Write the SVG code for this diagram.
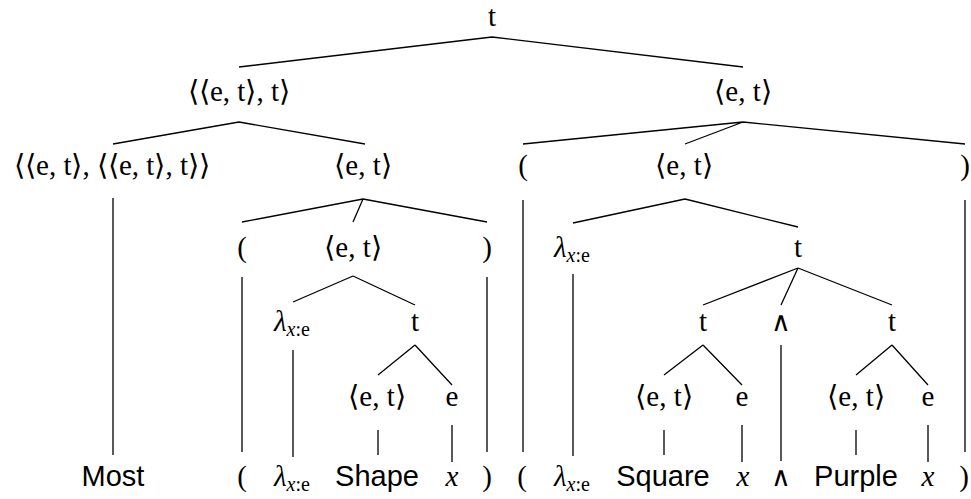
<svg xmlns="http://www.w3.org/2000/svg" width="971" height="499" viewBox="0 0 971 499">
<style>
text{fill:#000;text-anchor:middle;font-size:29px}
.s{font-family:'Liberation Serif','Times New Roman',Times,serif}
.ss{font-family:'Liberation Sans',Arial,Helvetica,sans-serif}
.and{font-family:'DejaVu Sans',sans-serif;font-size:27px;font-weight:200}
.i{font-style:italic}
.sub{font-size:20px}
.e path{stroke:#000;stroke-width:1.3;fill:none}
</style>
<rect width="971" height="499" fill="#fff"/>
<g class="e" id="connectors">
<path d="M492,37L239,67M492,37L743,67"/>
<path d="M239,122L113,144M239,122L365,144"/>
<path d="M743,122L523,144M743,122L685,144M743,122L965,144"/>
<path d="M113,198L113,455"/>
<path d="M363,199L242,222M363,199L353,222M363,199L487,222"/>
<path d="M523,200L523,452M965,200L965,452"/>
<path d="M685,199L573,223M685,199L798,227"/>
<path d="M242,277L242,452M487,277L487,452"/>
<path d="M353,276L293,302M353,276L415,305"/>
<path d="M573,274L573,456"/>
<path d="M798,268L703,305M798,268L781,305M798,268L892,305"/>
<path d="M293,350L293,457"/>
<path d="M415,345L378,375M415,345L452,385"/>
<path d="M703,345L664,375M703,345L742,385"/>
<path d="M781,345L781,461"/>
<path d="M892,345L856,375M892,345L928,385"/>
<path d="M378,430L378,455M452,425L452,462M664,430L664,455M742,425L742,462M856,430L856,455M928,425L928,462"/>
</g>
<g id="n-root"><text class="s" x="492" y="26">t</text></g>
<g id="n-l1a"><text class="s" x="239" y="101">⟨⟨e, t⟩, t⟩</text></g>
<g id="n-l1b"><text class="s" x="743" y="101">⟨e, t⟩</text></g>
<g id="n-most-type"><text class="s" x="112" y="175">⟨⟨e, t⟩, ⟨⟨e, t⟩, t⟩⟩</text></g>
<g id="n-l2-et"><text class="s" x="363" y="175">⟨e, t⟩</text></g>
<g id="n-l2-lp"><text class="s" x="523" y="175">(</text></g>
<g id="n-l2-et2"><text class="s" x="684" y="175">⟨e, t⟩</text></g>
<g id="n-l2-rp"><text class="s" x="965" y="175">)</text></g>
<g id="n-l3-lp"><text class="s" x="242" y="257">(</text></g>
<g id="n-l3-et"><text class="s" x="353" y="257">⟨e, t⟩</text></g>
<g id="n-l3-rp"><text class="s" x="487" y="257">)</text></g>
<g id="n-l3-lam"><text class="s" x="572" y="257"><tspan class="i">λ</tspan><tspan class="sub i" dy="5">x</tspan><tspan class="sub">:e</tspan></text></g>
<g id="n-l3-t"><text class="s" x="798" y="257">t</text></g>
<g id="n-l4-lam"><text class="s" x="292" y="331"><tspan class="i">λ</tspan><tspan class="sub i" dy="5">x</tspan><tspan class="sub">:e</tspan></text></g>
<g id="n-l4-t"><text class="s" x="415" y="331">t</text></g>
<g id="n-l4-t2"><text class="s" x="703" y="331">t</text></g>
<g id="n-l4-and"><text class="and" x="781" y="331">∧</text></g>
<g id="n-l4-t3"><text class="s" x="892" y="331">t</text></g>
<g id="n-l5-et1"><text class="s" x="377" y="406">⟨e, t⟩</text></g>
<g id="n-l5-e1"><text class="s" x="452" y="406">e</text></g>
<g id="n-l5-et2"><text class="s" x="664" y="406">⟨e, t⟩</text></g>
<g id="n-l5-e2"><text class="s" x="742" y="406">e</text></g>
<g id="n-l5-et3"><text class="s" x="856" y="406">⟨e, t⟩</text></g>
<g id="n-l5-e3"><text class="s" x="928" y="406">e</text></g>
<g id="leaf-most"><text class="ss" x="113" y="486">Most</text></g>
<g id="leaf-lp1"><text class="s" x="242" y="486">(</text></g>
<g id="leaf-lam1"><text class="s" x="292" y="486"><tspan class="i">λ</tspan><tspan class="sub i" dy="5">x</tspan><tspan class="sub">:e</tspan></text></g>
<g id="leaf-shape"><text class="ss" x="377" y="486">Shape</text></g>
<g id="leaf-x1"><text class="s i" x="452" y="486">x</text></g>
<g id="leaf-rp1"><text class="s" x="487" y="486">)</text></g>
<g id="leaf-lp2"><text class="s" x="522" y="486">(</text></g>
<g id="leaf-lam2"><text class="s" x="572" y="486"><tspan class="i">λ</tspan><tspan class="sub i" dy="5">x</tspan><tspan class="sub">:e</tspan></text></g>
<g id="leaf-square"><text class="ss" x="663" y="486">Square</text></g>
<g id="leaf-x2"><text class="s i" x="743" y="486">x</text></g>
<g id="leaf-and"><text class="and" x="781" y="486">∧</text></g>
<g id="leaf-purple"><text class="ss" x="856" y="486">Purple</text></g>
<g id="leaf-x3"><text class="s i" x="928" y="486">x</text></g>
<g id="leaf-rp2"><text class="s" x="964" y="486">)</text></g>
</svg>
